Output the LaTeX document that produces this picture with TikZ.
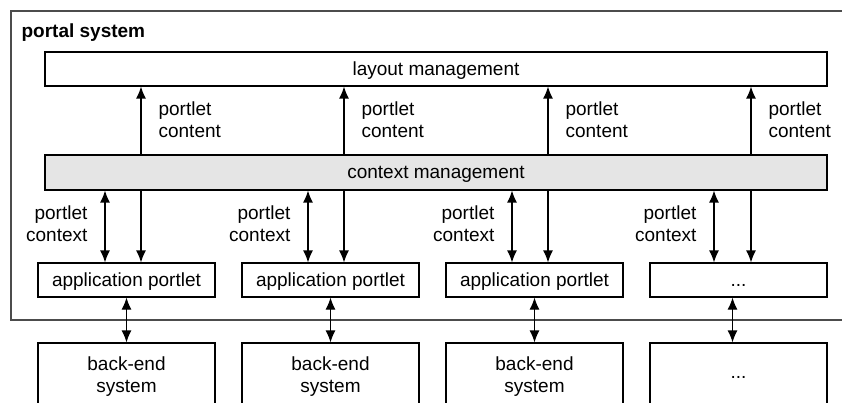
\documentclass[tikz,border=0pt]{standalone}
\usepackage{fontspec}
\setmainfont{Liberation Sans}
\usetikzlibrary{arrows.meta}

\tikzset{
  box/.style={draw,rectangle,inner sep=0pt,minimum width=177pt,minimum height=34pt,align=center,text depth=1pt},
  bar/.style={draw,rectangle,inner sep=0pt,minimum width=782pt,minimum height=34pt,text depth=1pt},
  lbl/.style={inner sep=0pt},
  flow/.style={-{Latex[length=12pt,width=10pt]}},
  both/.style={{Latex[length=12pt,width=10pt]}-{Latex[length=12pt,width=10pt]}}
}

\begin{document}
\begin{tikzpicture}[x=1pt,y=-1pt,line width=1.2pt,font=\fontsize{19}{22}\selectfont]
    \useasboundingbox (0,0) rectangle (842,403);
    \clip (0,0) rectangle (842,403);

    % outer frame
    \draw[black!70] (11,11) rectangle (870,320);
    \node[lbl,anchor=west,font=\fontsize{19}{22}\selectfont\bfseries] (title) at (21,33) {portal system};

    \node[bar] (lay) at (436,69) {layout management};
    \node[bar,fill=black!10,minimum height=35pt] (ctx) at (436,172.5) {context management};

    \node[box] (app1) at (126.5,280) {application portlet};
    \node[box] (app2) at (330.5,280) {application portlet};
    \node[box] (app3) at (534.5,280) {application portlet};
    \node[box,text height=14pt] (app4) at (738.5,280) {...};

    \node[box,minimum height=64pt] (back1) at (126.5,375) {back-end\\system};
    \node[box,minimum height=64pt] (back2) at (330.5,375) {back-end\\system};
    \node[box,minimum height=64pt] (back3) at (534.5,375) {back-end\\system};
    \node[box,minimum height=64pt,text height=8pt] (back4) at (738.5,375) {...};

    % columns of the arrows
    \coordinate (s1) at (141,0);
    \coordinate (s2) at (344,0);
    \coordinate (s3) at (548,0);
    \coordinate (s4) at (751,0);
    \coordinate (d1) at (105,0);
    \coordinate (d2) at (308,0);
    \coordinate (d3) at (512,0);
    \coordinate (d4) at (714,0);

    \draw[flow] (ctx.north -| s1) -- (lay.south -| s1);
    \draw[flow] (ctx.north -| s2) -- (lay.south -| s2);
    \draw[flow] (ctx.north -| s3) -- (lay.south -| s3);
    \draw[flow] (ctx.north -| s4) -- (lay.south -| s4);
    \node[lbl,anchor=west,align=left] (pc1) at (158,120) {portlet\\content};
    \node[lbl,anchor=west,align=left] (pc2) at (361,120) {portlet\\content};
    \node[lbl,anchor=west,align=left] (pc3) at (565,120) {portlet\\content};
    \node[lbl,anchor=west,align=left] (pc4) at (768,120) {portlet\\content};

    \draw[flow] (ctx.south -| s1) -- (app1.north -| s1);
    \draw[flow] (ctx.south -| s2) -- (app2.north -| s2);
    \draw[flow] (ctx.south -| s3) -- (app3.north -| s3);
    \draw[flow] (ctx.south -| s4) -- (app4.north -| s4);
    \draw[both] (ctx.south -| d1) -- (app1.north -| d1);
    \draw[both] (ctx.south -| d2) -- (app2.north -| d2);
    \draw[both] (ctx.south -| d3) -- (app3.north -| d3);
    \draw[both] (ctx.south -| d4) -- (app4.north -| d4);
    \node[lbl,anchor=east,align=right] (px1) at (88,224) {portlet\\context};
    \node[lbl,anchor=east,align=right] (px2) at (291,224) {portlet\\context};
    \node[lbl,anchor=east,align=right] (px3) at (495,224) {portlet\\context};
    \node[lbl,anchor=east,align=right] (px4) at (697,224) {portlet\\context};

    \draw[both] (app1) -- (back1);
    \draw[both] (app2) -- (back2);
    \draw[both] (app3) -- (back3);
    \draw[both] ([xshift=-6pt]app4.south) -- ([xshift=-6pt]back4.north);
  \end{tikzpicture}
\end{document}
